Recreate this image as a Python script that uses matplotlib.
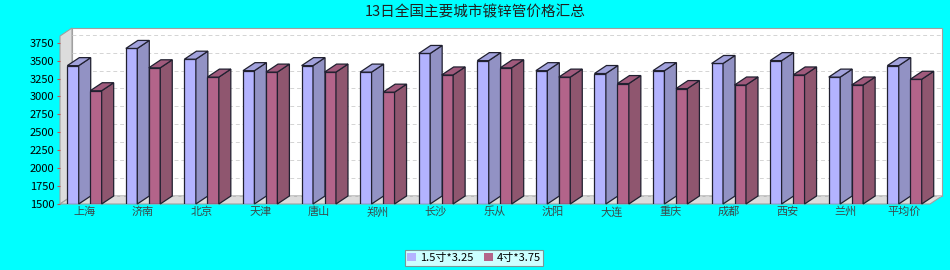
import matplotlib
matplotlib.use("Agg")
import matplotlib.pyplot as plt
from matplotlib.patches import Polygon, Patch
import numpy as np

plt.rcParams['font.family'] = ['Noto Sans CJK SC', 'DejaVu Sans']

cities = ['上海', '济南', '北京', '天津', '唐山', '郑州', '长沙', '乐从',
          '沈阳', '大连', '重庆', '成都', '西安', '兰州', '平均价']
small_pipe = [3430, 3670, 3520, 3360, 3430, 3340, 3600, 3500,
              3360, 3320, 3360, 3460, 3500, 3270, 3430]
large_pipe = [3080, 3400, 3270, 3340, 3340, 3060, 3300, 3400,
              3270, 3180, 3110, 3160, 3300, 3160, 3240]
series_names = ['1.5寸*3.25', '4寸*3.75']
yticks = list(range(1500, 3751, 250))

W, H = 950, 270
fig = plt.figure(figsize=(W / 100, H / 100), dpi=100, facecolor='#00ffff')

# front plot area in pixels
left, right, top, bottom = 60, 930, 36, 204
ax = fig.add_axes([left / W, 1 - bottom / H, (right - left) / W, (bottom - top) / H])
ax.set_facecolor('none')
for s in ax.spines.values():
    s.set_visible(False)

x = np.arange(len(cities))
x0, x1 = -0.418, len(cities) - 1 + 0.435
ymin = 1500
ymax = ymin + (bottom - top) * 2250 / 161.3
ax.set_xlim(x0, x1)
ax.set_ylim(ymin, ymax)

# 3d depth offset in data units (12 px right, 8 px up)
dx = 12 * (x1 - x0) / (right - left)
dy = 8 * (ymax - ymin) / (bottom - top)

wall = '#dcdcdc'
edge = '#a0a0a0'
# back wall
ax.add_patch(Polygon([(x0 + dx, ymin + dy), (x1 + dx, ymin + dy), (x1 + dx, ymax + dy),
                      (x0 + dx, ymax + dy)], closed=True, facecolor='white',
                     edgecolor=edge, lw=0.8, clip_on=False, zorder=0))
# left wall
ax.add_patch(Polygon([(x0, ymin), (x0 + dx, ymin + dy), (x0 + dx, ymax + dy), (x0, ymax)],
                     closed=True, facecolor=wall, edgecolor=edge, lw=0.8,
                     clip_on=False, zorder=0))
# floor
ax.add_patch(Polygon([(x0, ymin), (x1, ymin), (x1 + dx, ymin + dy), (x0 + dx, ymin + dy)],
                     closed=True, facecolor=wall, edgecolor=edge, lw=0.8,
                     clip_on=False, zorder=0))
# gridlines on back wall
for t in yticks:
    ax.plot([x0 + dx, x1 + dx], [t + dy, t + dy], color='#d4d4d4', lw=0.7,
            ls=(0, (4, 3)), clip_on=False, zorder=0.5)

width = 0.195
offsets = [-0.196, 0.196]
colors = [('#b3b3ff', '#9292c4', '#a2a2dc'), ('#b3648a', '#8f566f', '#a05a7c')]

z = 1
for i in range(len(cities)):
    for vals, off, (cf, cs, ct) in zip([small_pipe, large_pipe], offsets, colors):
        v = vals[i]
        xa = x[i] + off - width / 2
        xb = x[i] + off + width / 2
        ax.bar(xa, v - ymin, bottom=ymin, width=width, align='edge', color=cf,
               edgecolor='#202030', lw=0.9, zorder=z)
        ax.add_patch(Polygon([(xb, ymin), (xb + dx, ymin + dy), (xb + dx, v + dy), (xb, v)],
                             closed=True, facecolor=cs, edgecolor='#202030', lw=0.9,
                             zorder=z, clip_on=False))
        ax.add_patch(Polygon([(xa, v), (xa + dx, v + dy), (xb + dx, v + dy), (xb, v)],
                             closed=True, facecolor=ct, edgecolor='#202030', lw=0.9,
                             zorder=z, clip_on=False))
        z += 0.01

ax.set_yticks(yticks)
ax.set_yticklabels([str(t) for t in yticks], fontsize=8, color='black')
ax.tick_params(axis='y', length=2, color='#c05050', pad=2)
ax.set_xticks(x)
ax.set_xticklabels(cities, fontsize=8, color='#3a4a4a')
ax.tick_params(axis='x', length=0, pad=2)

fig.text(0.5, 1 - 12 / H, '13日全国主要城市镀锌管价格汇总', ha='center', va='center',
         fontsize=10.5, color='#202020')

handles = [Patch(facecolor=colors[0][0], edgecolor='none'),
           Patch(facecolor=colors[1][0], edgecolor='none')]
leg = fig.legend(handles, series_names, loc='center', bbox_to_anchor=(474 / W, 1 - 258 / H),
                 ncol=2, fontsize=8, frameon=True, fancybox=False, handlelength=0.8,
                 handleheight=0.8, handletextpad=0.3, columnspacing=1.0,
                 borderpad=0.25, borderaxespad=0)
leg.get_frame().set_edgecolor('#808080')
leg.get_frame().set_linewidth(0.8)

fig.savefig('out.png', dpi=100, facecolor=fig.get_facecolor())
